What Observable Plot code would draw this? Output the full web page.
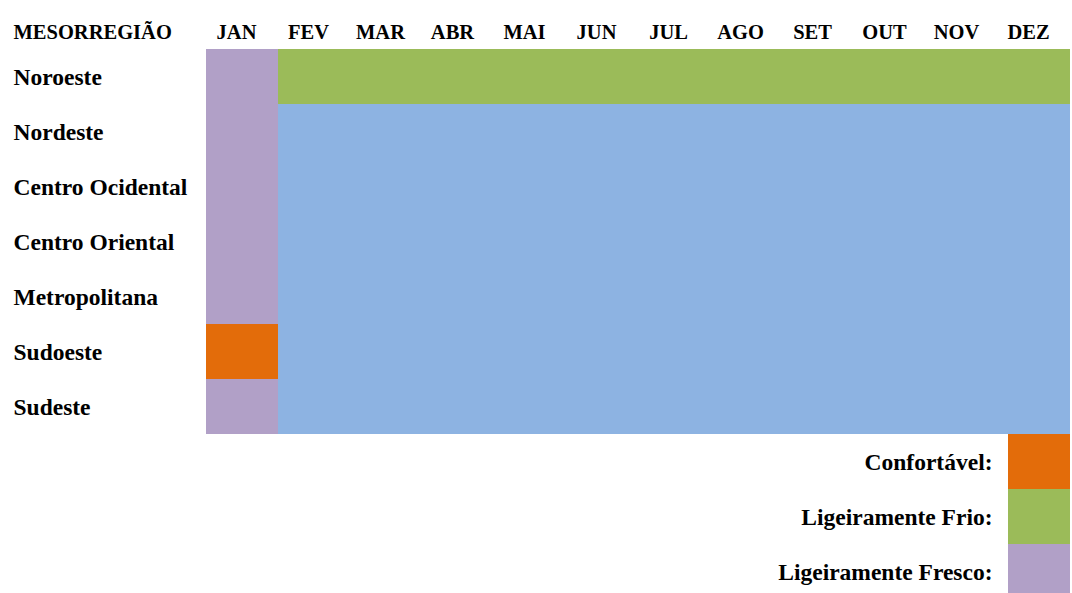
<!DOCTYPE html>
<html>
<head>
<meta charset="utf-8">
<script src="https://cdn.jsdelivr.net/npm/d3@7"></script>
<script src="https://cdn.jsdelivr.net/npm/@observablehq/plot@0.6"></script>
<style>
  html, body { margin: 0; padding: 0; background: #fff; }
  svg { display: block; }
</style>
</head>
<body>
<div id="chart"></div>
<script>
const months = ["JAN", "FEV", "MAR", "ABR", "MAI", "JUN", "JUL", "AGO", "SET", "OUT", "NOV", "DEZ"];
const regions = ["Noroeste", "Nordeste", "Centro Ocidental", "Centro Oriental", "Metropolitana", "Sudoeste", "Sudeste"];
// class in January per region
const janClass = ["Ligeiramente Fresco", "Ligeiramente Fresco", "Ligeiramente Fresco", "Ligeiramente Fresco", "Ligeiramente Fresco", "Confortável", "Ligeiramente Fresco"];
// class from February to December per region
const restClass = ["Ligeiramente Frio", "Sem legenda", "Sem legenda", "Sem legenda", "Sem legenda", "Sem legenda", "Sem legenda"];
const classes = ["Confortável", "Ligeiramente Frio", "Ligeiramente Fresco", "Sem legenda"];
const classColors = ["#E36C0A", "#9BBB59", "#B1A0C7", "#8DB3E2"];
const legendKeys = ["Confortável", "Ligeiramente Frio", "Ligeiramente Fresco"];
const headerLabel = "MESORREGIÃO";

const cells = [];
regions.forEach((r, i) => {
  months.forEach((m, j) => {
    cells.push({region: r, month: m, cls: j === 0 ? janClass[i] : restClass[i]});
  });
});
const legendRows = legendKeys.map(k => ({key: k + ":", cls: k}));

const font = "'Liberation Serif', 'Times New Roman', serif";

const chart = Plot.plot({
  width: 1072,
  height: 593,
  marginLeft: 204,
  marginRight: 0,
  marginTop: 47,
  marginBottom: 0,
  style: {fontFamily: font, fontWeight: "bold", fontSize: "21px", color: "#000", background: "#fff"},
  x: {domain: months, range: [203, 1072], padding: 0, axis: null},
  y: {domain: [...regions, ...legendRows.map(d => d.key)], range: [47, 600.5], padding: 0, axis: null},
  color: {domain: classes, range: classColors},
  marks: [
    Plot.cell(cells, {x: "month", y: "region", fill: "cls"}),
    Plot.cell(legendRows, {x: () => "DEZ", y: "key", fill: "cls", insetLeft: 10}),
    Plot.text(legendRows, {x: () => "DEZ", y: "key", text: "key", textAnchor: "end", dx: -42, fontSize: 23.5, fill: "#000"}),
    Plot.text(regions, {y: d => d, text: d => d, frameAnchor: "left", textAnchor: "start", dx: -191, fontSize: 23.5, fill: "#000"}),
    Plot.text(months, {x: d => d, text: d => d, frameAnchor: "top", dy: -23, dx: -6, fontSize: 20.5, fill: "#000"}),
    Plot.text([headerLabel], {text: d => d, frameAnchor: "top-left", textAnchor: "start", dx: -191, dy: -23, fontSize: 20.5, fill: "#000"})
  ]
});
document.getElementById("chart").appendChild(chart);
</script>
</body>
</html>
